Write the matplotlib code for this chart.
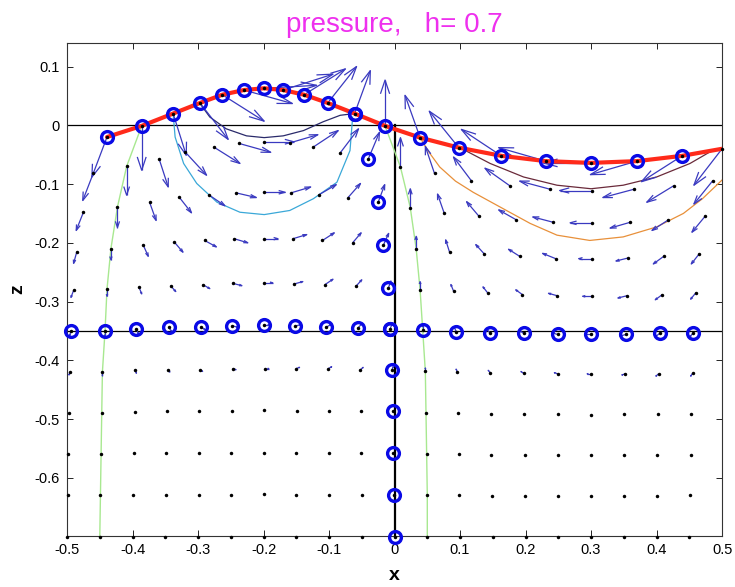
import matplotlib
matplotlib.use("Agg")
import matplotlib.pyplot as plt
from matplotlib.collections import LineCollection
import numpy as np

plt.rcParams['font.family'] = ['Liberation Sans', 'DejaVu Sans']

# ---------------- data ----------------
title_text = "pressure,   h= 0.7"
x_ticks = [-0.5, -0.4, -0.3, -0.2, -0.1, 0, 0.1, 0.2, 0.3, 0.4, 0.5]
x_tick_labels = ["-0.5", "-0.4", "-0.3", "-0.2", "-0.1", "0", "0.1", "0.2", "0.3", "0.4", "0.5"]
y_ticks = [-0.6, -0.5, -0.4, -0.3, -0.2, -0.1, 0, 0.1]
y_tick_labels = ["-0.6", "-0.5", "-0.4", "-0.3", "-0.2", "-0.1", "0", "0.1"]

# particle rows (surface = row 0 ... bottom = row 10), 20 columns each
row_x = [
    [-0.439, -0.386, -0.338, -0.297, -0.263, -0.230, -0.199, -0.170, -0.138, -0.102,
     -0.061, -0.0145, 0.039, 0.098, 0.163, 0.231, 0.300, 0.370, 0.439, 0.500],
    [-0.460, -0.409, -0.3595, -0.320, -0.276, -0.237, -0.199, -0.160, -0.124, -0.083,
     -0.040, 0.009, 0.061, 0.117, 0.176, 0.238, 0.301, 0.365, 0.426, 0.486],
    [-0.475, -0.423, -0.374, -0.329, -0.284, -0.242, -0.200, -0.158, -0.115, -0.071,
     -0.025, 0.024, 0.0756, 0.129, 0.186, 0.242, 0.301, 0.360, 0.418, 0.474],
    [-0.485, -0.433, -0.384, -0.336, -0.290, -0.245, -0.200, -0.155, -0.110, -0.064,
     -0.017, 0.033, 0.084, 0.137, 0.191, 0.246, 0.301, 0.356, 0.411, 0.465],
    [-0.490, -0.439, -0.390, -0.342, -0.293, -0.247, -0.200, -0.153, -0.106, -0.059,
     -0.0095, 0.039, 0.090, 0.142, 0.195, 0.248, 0.301, 0.355, 0.409, 0.460],
    [-0.494, -0.442, -0.394, -0.345, -0.296, -0.248, -0.200, -0.152, -0.105, -0.056,
     -0.007, 0.043, 0.094, 0.146, 0.197, 0.249, 0.300, 0.353, 0.405, 0.456],
    [-0.496, -0.446, -0.396, -0.346, -0.297, -0.247, -0.198, -0.150, -0.101, -0.052,
     -0.004, 0.047, 0.096, 0.146, 0.197, 0.249, 0.300, 0.352, 0.403, 0.455],
    [-0.497, -0.447, -0.397, -0.348, -0.298, -0.248, -0.199, -0.149, -0.100, -0.051,
     -0.003, 0.048, 0.097, 0.147, 0.198, 0.249, 0.300, 0.351, 0.402, 0.453],
    [-0.498, -0.448, -0.398, -0.349, -0.299, -0.249, -0.199, -0.150, -0.100, -0.051,
     -0.002, 0.049, 0.098, 0.148, 0.199, 0.249, 0.300, 0.351, 0.401, 0.452],
    [-0.499, -0.449, -0.399, -0.349, -0.299, -0.249, -0.200, -0.150, -0.100, -0.050,
     -0.001, 0.050, 0.099, 0.149, 0.199, 0.250, 0.300, 0.350, 0.400, 0.451],
    [-0.500, -0.450, -0.400, -0.350, -0.300, -0.250, -0.200, -0.150, -0.100, -0.050,
     0.000, 0.050, 0.100, 0.150, 0.200, 0.250, 0.300, 0.350, 0.400, 0.450],
]
row_z = [
    [-0.020, -0.001, 0.020, 0.038, 0.052, 0.060, 0.063, 0.060, 0.052, 0.038,
     0.020, -0.001, -0.021, -0.038, -0.052, -0.061, -0.064, -0.061, -0.052, -0.040],
    [-0.082, -0.070, -0.057, -0.045, -0.037, -0.031, -0.028, -0.030, -0.037, -0.047,
     -0.057, -0.071, -0.082, -0.094, -0.103, -0.109, -0.111, -0.109, -0.103, -0.094],
    [-0.148, -0.139, -0.131, -0.122, -0.118, -0.115, -0.114, -0.115, -0.118, -0.123,
     -0.131, -0.140, -0.149, -0.155, -0.161, -0.165, -0.166, -0.165, -0.161, -0.155],
    [-0.215, -0.210, -0.203, -0.199, -0.196, -0.193, -0.193, -0.193, -0.196, -0.200,
     -0.204, -0.210, -0.216, -0.219, -0.223, -0.227, -0.227, -0.226, -0.223, -0.219],
    [-0.281, -0.279, -0.276, -0.273, -0.271, -0.269, -0.268, -0.270, -0.271, -0.274,
     -0.277, -0.280, -0.282, -0.285, -0.288, -0.290, -0.291, -0.290, -0.288, -0.285],
    [-0.350, -0.350, -0.347, -0.344, -0.343, -0.341, -0.340, -0.342, -0.344, -0.345,
     -0.347, -0.349, -0.351, -0.354, -0.354, -0.356, -0.356, -0.356, -0.354, -0.353],
    [-0.420, -0.420, -0.417, -0.416, -0.416, -0.414, -0.414, -0.414, -0.414, -0.416,
     -0.416, -0.419, -0.420, -0.421, -0.422, -0.423, -0.423, -0.423, -0.423, -0.422],
    [-0.490, -0.489, -0.488, -0.487, -0.486, -0.486, -0.485, -0.486, -0.486, -0.487,
     -0.487, -0.489, -0.490, -0.491, -0.492, -0.492, -0.493, -0.492, -0.492, -0.491],
    [-0.560, -0.559, -0.558, -0.558, -0.557, -0.557, -0.557, -0.557, -0.557, -0.558,
     -0.558, -0.559, -0.560, -0.561, -0.561, -0.562, -0.562, -0.562, -0.561, -0.561],
    [-0.630, -0.630, -0.629, -0.629, -0.629, -0.629, -0.628, -0.629, -0.629, -0.629,
     -0.629, -0.630, -0.630, -0.631, -0.631, -0.631, -0.631, -0.631, -0.631, -0.630],
    [-0.700] * 20,
]
# velocity-like arrows (rows 0..6; deeper rows are plain dots)
row_u = [
    [-0.023, 0.000, 0.020, 0.043, 0.064, 0.074, 0.080, 0.076, 0.063, 0.044,
     0.024, 0.000, -0.023, -0.045, -0.061, -0.072, -0.073, -0.071, -0.062, -0.043],
    [-0.016, 0.000, 0.014, 0.033, 0.040, 0.048, 0.045, 0.043, 0.038, 0.028,
     0.017, 0.000, -0.014, -0.027, -0.038, -0.047, -0.049, -0.047, -0.041, -0.029],
    [-0.011, 0.000, 0.010, 0.019, 0.025, 0.031, 0.033, 0.030, 0.026, 0.019,
     0.010, 0.000, -0.010, -0.019, -0.027, -0.031, -0.033, -0.031, -0.025, -0.020],
    [-0.005, 0.000, 0.008, 0.013, 0.018, 0.021, 0.022, 0.021, 0.018, 0.013,
     0.008, 0.000, -0.006, -0.013, -0.017, -0.020, -0.020, -0.018, -0.016, -0.012],
    [-0.004, 0.000, 0.004, 0.008, 0.011, 0.014, 0.014, 0.013, 0.012, 0.009,
     0.004, 0.000, -0.004, -0.007, -0.010, -0.013, -0.014, -0.014, -0.011, -0.008],
    [-0.002, 0.000, 0.003, 0.005, 0.007, 0.009, 0.009, 0.009, 0.008, 0.006,
     0.003, 0.000, -0.003, -0.005, -0.007, -0.009, -0.009, -0.009, -0.007, -0.005],
    [-0.001, 0.000, 0.002, 0.003, 0.004, 0.005, 0.006, 0.005, 0.005, 0.004,
     0.002, 0.000, -0.002, -0.003, -0.004, -0.005, -0.006, -0.005, -0.004, -0.003],
]
row_w = [
    [-0.068, -0.0755, -0.071, -0.062, -0.045, -0.023, 0.005, 0.027, 0.044, 0.062,
     0.073, 0.078, 0.072, 0.062, 0.045, 0.023, 0.000, -0.023, -0.044, -0.062],
    [-0.046, -0.049, -0.048, -0.040, -0.028, -0.015, 0.000, 0.014, 0.028, 0.041,
     0.045, 0.050, 0.046, 0.040, 0.030, 0.014, 0.000, -0.014, -0.028, -0.040],
    [-0.031, -0.035, -0.031, -0.027, -0.019, -0.008, 0.000, 0.010, 0.017, 0.024,
     0.030, 0.032, 0.032, 0.025, 0.017, 0.009, 0.000, -0.010, -0.018, -0.027],
    [-0.020, -0.019, -0.020, -0.017, -0.011, -0.007, 0.000, 0.007, 0.013, 0.017,
     0.020, 0.021, 0.021, 0.016, 0.012, 0.009, 0.000, -0.005, -0.013, -0.017],
    [-0.012, -0.012, -0.011, -0.010, -0.007, -0.004, 0.000, 0.004, 0.009, 0.011,
     0.012, 0.014, 0.011, 0.010, 0.008, 0.004, 0.000, -0.004, -0.009, -0.011],
    [-0.008, -0.009, -0.008, -0.007, -0.005, -0.003, 0.000, 0.003, 0.005, 0.007,
     0.008, 0.009, 0.008, 0.007, 0.005, 0.003, 0.000, -0.003, -0.006, -0.007],
    [-0.005, -0.006, -0.005, -0.004, -0.003, -0.002, 0.000, 0.002, 0.003, 0.004,
     0.005, 0.006, 0.005, 0.004, 0.003, 0.002, 0.000, -0.002, -0.004, -0.005],
]
# which particles carry blue circles
circled_surface_cols = 19          # surface columns 0..18
circled_row = 5                    # whole row at rest depth 0.35
circled_col = 10                   # whole column near x = 0
green_cols = [1, 11]               # material lines drawn in green

# pressure contours
navy_x = [-0.297, -0.282, -0.257, -0.226, -0.199, -0.170, -0.139, -0.109, -0.083, -0.061]
navy_z = [0.037, 0.014, -0.006, -0.018, -0.021, -0.018, -0.009, 0.006, 0.017, 0.020]
cyan_x = [-0.338, -0.335, -0.322, -0.302, -0.271, -0.236, -0.199, -0.160, -0.124, -0.088, -0.068, -0.064]
cyan_z = [0.020, -0.020, -0.065, -0.099, -0.131, -0.148, -0.152, -0.145, -0.125, -0.097, -0.043, 0.014]
brown_x = [0.103, 0.146, 0.197, 0.248, 0.300, 0.349, 0.400, 0.451, 0.482, 0.500]
brown_z = [-0.040, -0.065, -0.088, -0.102, -0.108, -0.102, -0.088, -0.065, -0.045, -0.040]
orange_x = [0.039, 0.052, 0.069, 0.093, 0.120, 0.161, 0.207, 0.248, 0.298, 0.349, 0.400, 0.441, 0.470, 0.502]
orange_z = [-0.021, -0.045, -0.071, -0.095, -0.114, -0.139, -0.167, -0.187, -0.196, -0.190, -0.173, -0.150, -0.125, -0.091]

# reference lines
hline_levels = [0.0, -0.35]
vline_x = 0.0
vline_range = [-0.7, 0.0]

# ---------------- figure ----------------
fig = plt.figure(figsize=(7.35, 5.87), dpi=100)
ax = fig.add_axes([0.0912, 0.0869, 0.8912, 0.8398])
ax.set_xlim(-0.5, 0.5)
ax.set_ylim(-0.699, 0.14)

# reference lines
for lv in hline_levels:
    ax.plot([-0.5, 0.5], [lv, lv], color='black', lw=0.9, zorder=2)
ax.plot([vline_x, vline_x], vline_range, color='black', lw=1.6, zorder=2)

# contours
ax.plot(navy_x, navy_z, color='#2a2a6a', lw=0.9, zorder=2)
ax.plot(cyan_x, cyan_z, color='#3aa8d8', lw=0.9, zorder=2)
ax.plot(brown_x, brown_z, color='#6a2a3a', lw=0.9, zorder=2)
ax.plot(orange_x, orange_z, color='#e8903a', lw=0.9, zorder=2)

# green material lines
for c in green_cols:
    ax.plot([r[c] for r in row_x], [r[c] for r in row_z], color='#a8e890', lw=1.0, zorder=2)

# arrows (MATLAB quiver style, open heads)
alpha, beta = 0.3, 0.3
segs = []
for r in range(len(row_u)):
    for c in range(20):
        x0, z0 = row_x[r][c], row_z[r][c]
        u, w = row_u[r][c], row_w[r][c]
        tx, tz = x0 + u, z0 + w
        segs.append([(x0, z0), (tx, tz)])
        segs.append([(tx - alpha * (u + beta * w), tz - alpha * (w - beta * u)), (tx, tz),
                     (tx - alpha * (u - beta * w), tz - alpha * (w + beta * u))])
ax.add_collection(LineCollection(segs, colors='#3a3ac0', linewidths=0.9, zorder=3))

# free surface
ax.plot(row_x[0], row_z[0], color='#ff2a1a', lw=3.0, zorder=4, solid_capstyle='round')

# circles
cx = row_x[0][:circled_surface_cols] + row_x[circled_row] + [r[circled_col] for r in row_x]
cz = row_z[0][:circled_surface_cols] + row_z[circled_row] + [r[circled_col] for r in row_z]
ax.plot(cx, cz, 'o', ms=8.5, mfc='none', mec='#0a0ae6', mew=2.4, zorder=5, clip_on=False)

# particle dots
allx = [v for r in row_x for v in r]
allz = [v for r in row_z for v in r]
ax.plot(allx, allz, 'o', ms=2.5, color='black', mew=0, zorder=6, clip_on=False)

# axes styling
ax.set_xticks(x_ticks)
ax.set_xticklabels(x_tick_labels)
ax.set_yticks(y_ticks)
ax.set_yticklabels(y_tick_labels)
ax.tick_params(direction='in', length=4, width=0.6, top=True, right=True,
               labelsize=10.5, pad=5, colors='black')
for s in ax.spines.values():
    s.set_linewidth(0.8)
    s.set_color('#333333')

ax.set_title(title_text, color='#ee30ee', fontsize=20, pad=8)
ax.set_xlabel('x', fontsize=14, fontweight='bold')
ax.set_ylabel('z', fontsize=14, fontweight='bold')
ax.xaxis.set_label_coords(0.5, -0.062)
ax.yaxis.set_label_coords(-0.062, 0.5)

fig.savefig('out.png', dpi=100)
